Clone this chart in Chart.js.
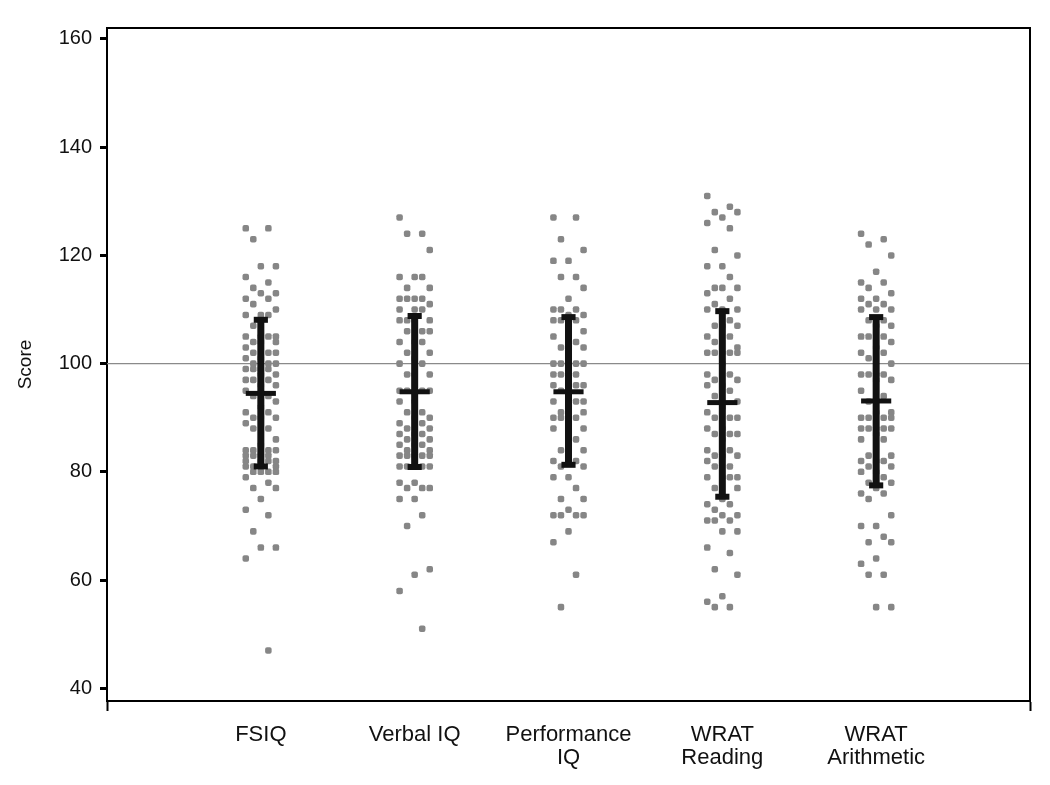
<!DOCTYPE html>
<html>
<head>
<meta charset="utf-8">
<script src="https://cdn.jsdelivr.net/npm/chart.js@4.4.1/dist/chart.umd.min.js"></script>
<style>
  html, body { margin: 0; padding: 0; background: #fff; }
  #wrap { width: 1050px; height: 785px; }
</style>
</head>
<body>
<div id="wrap"><canvas id="chart" width="1050" height="785"></canvas></div>
<script>
'use strict';

// categories
var categories = ['FSIQ', 'Verbal IQ', ['Performance', 'IQ'], ['WRAT', 'Reading'], ['WRAT', 'Arithmetic']];

// individual scores
var fsiqScores = [125,125,123,118,118,116,115,114,113,113,112,112,111,110,109,109,109,107,105,105,105,105,104,104,104,103,102,102,102,101,101,100,100,100,99,99,99,99,98,98,97,97,97,96,96,95,94,94,93,92,91,91,90,90,90,89,88,88,86,85,84,84,84,84,83,83,83,83,82,82,82,82,81,81,81,81,80,80,80,80,79,78,77,77,75,73,72,69,66,66,64,47];
var verbalScores = [127,124,124,121,116,116,116,114,114,112,112,112,112,111,110,110,110,108,108,108,108,106,106,106,104,104,104,102,102,101,100,100,98,98,98,95,95,95,95,93,93,91,91,90,90,89,89,88,88,87,87,87,86,86,85,85,85,84,84,83,83,83,83,83,81,81,81,81,81,78,78,77,77,77,75,75,72,70,62,61,58,51];
var perfScores = [127,127,123,121,119,119,116,116,114,112,110,110,110,109,109,108,108,108,106,105,105,104,103,103,101,100,100,100,100,98,98,98,98,96,96,96,96,95,93,93,93,93,91,91,90,90,90,90,88,88,88,86,84,84,84,82,82,81,81,79,79,77,75,75,73,72,72,72,72,69,67,61,55];
var readScores = [131,129,128,128,127,126,125,121,120,118,118,116,114,114,114,113,112,111,110,110,110,108,107,107,107,105,105,104,103,102,102,102,102,102,100,98,98,97,97,96,96,95,94,93,92,91,90,90,90,88,88,87,87,87,86,84,84,83,83,83,82,81,81,79,79,79,79,77,77,75,74,74,73,72,72,71,71,71,69,69,66,65,62,61,57,56,55,55];
var arithScores = [124,123,122,120,117,115,115,114,113,112,112,111,111,110,110,110,108,108,107,107,105,105,105,104,103,102,102,101,100,98,98,98,98,97,97,95,94,93,91,91,90,90,90,90,88,88,88,88,88,87,86,86,83,83,82,82,82,81,81,80,80,79,78,78,77,76,76,75,72,70,70,68,67,67,64,63,61,61,55,55];

// mean and error bar ends
var means = [94.5, 94.8, 94.8, 92.8, 93.1];
var upper = [108.1, 108.8, 108.6, 109.7, 108.6];
var lower = [81.0, 80.9, 81.3, 75.4, 77.5];

// axis
var yTicks = [40, 60, 80, 100, 120, 140, 160];
var refValue = 100;

var allScores = [fsiqScores, verbalScores, perfScores, readScores, arithScores];

// spread points sideways in five lanes
var lanes = [-2, 1, -1, 2, 0];
var laneStep = 0.049;

var datasets = [];

// error bars: vertical bar, caps, mean line
means.forEach(function (m, i) {
    var x = i + 1;
    var bar = { type: 'line', data: [{x: x, y: lower[i]}, {x: x, y: upper[i]}], borderColor: '#111', borderWidth: 7, pointRadius: 0, order: 0 };
    var capTop = { type: 'line', data: [{x: x - 0.046, y: upper[i]}, {x: x + 0.046, y: upper[i]}], borderColor: '#111', borderWidth: 6, pointRadius: 0, order: 0 };
    var capBot = { type: 'line', data: [{x: x - 0.046, y: lower[i]}, {x: x + 0.046, y: lower[i]}], borderColor: '#111', borderWidth: 6, pointRadius: 0, order: 0 };
    var meanBar = { type: 'line', data: [{x: x - 0.098, y: m}, {x: x + 0.098, y: m}], borderColor: '#111', borderWidth: 5, pointRadius: 0, order: 0 };
    datasets.push(bar, capTop, capBot, meanBar);
});

// scatter of scores
allScores.forEach(function (scores, i) {
    var sorted = scores.slice().sort(function (a, b) { return b - a; });
    datasets.push({
        type: 'scatter',
        data: sorted.map(function (v, k) {
            return { x: i + 1 + lanes[k % lanes.length] * laneStep, y: v };
        }),
        backgroundColor: '#868686',
        borderWidth: 0,
        pointStyle: 'rectRounded',
        pointRadius: 3.8,
        order: 1
    });
});

// reference line at 100
datasets.push({
    type: 'line',
    data: [{x: 0, y: refValue}, {x: 6, y: refValue}],
    borderColor: '#8a8a8a',
    borderWidth: 1.2,
    pointRadius: 0,
    order: 2
});

// box round the plot area (top and right edges)
var frame = {
    id: 'frame',
    afterDraw: function (chart) {
        var a = chart.chartArea, ctx = chart.ctx;
        ctx.save();
        ctx.strokeStyle = '#000';
        ctx.lineWidth = 2;
        ctx.beginPath();
        ctx.moveTo(a.left, a.top);
        ctx.lineTo(a.right, a.top);
        ctx.lineTo(a.right, a.bottom);
        ctx.stroke();
        ctx.restore();
    }
};

new Chart(document.getElementById('chart'), {
    type: 'scatter',
    data: { datasets: datasets },
    plugins: [frame],
    options: {
        responsive: false,
        animation: false,
        layout: { padding: { top: 28, right: 20, left: 0, bottom: 0 } },
        plugins: { legend: { display: false }, tooltip: { enabled: false } },
        scales: {
            x: {
                type: 'linear',
                min: 0,
                max: 6,
                afterBuildTicks: function (axis) {
                    axis.ticks = [0, 1, 2, 3, 4, 5, 6].map(function (v) { return { value: v }; });
                },
                afterFit: function (axis) { axis.height = 84; },
                border: { color: '#000', width: 2 },
                grid: {
                    drawOnChartArea: false,
                    tickLength: 10,
                    tickWidth: 2,
                    tickColor: function (ctx) {
                        var v = ctx.tick && ctx.tick.value;
                        return (v === 0 || v === 6) ? '#000' : 'rgba(0,0,0,0)';
                    }
                },
                ticks: {
                    autoSkip: false,
                    maxRotation: 0,
                    padding: 12,
                    color: '#111',
                    font: { family: 'Liberation Sans, Arial, sans-serif', size: 22, lineHeight: 1.05 },
                    callback: function (v) {
                        return (v >= 1 && v <= 5) ? categories[v - 1] : '';
                    }
                }
            },
            y: {
                min: 37.65,
                max: 162.03,
                afterBuildTicks: function (axis) {
                    axis.ticks = yTicks.map(function (v) { return { value: v }; });
                },
                afterFit: function (axis) { axis.width = 107; },
                border: { color: '#000', width: 2 },
                grid: { drawOnChartArea: false, tickLength: 7, tickWidth: 3, tickColor: '#000' },
                ticks: {
                    padding: 8,
                    color: '#111',
                    font: { family: 'Liberation Sans, Arial, sans-serif', size: 20 }
                },
                title: {
                    display: true,
                    text: 'Score',
                    color: '#111',
                    padding: { top: 14, bottom: 0 },
                    font: { family: 'Liberation Sans, Arial, sans-serif', size: 19 }
                }
            }
        }
    }
});
</script>
</body>
</html>
